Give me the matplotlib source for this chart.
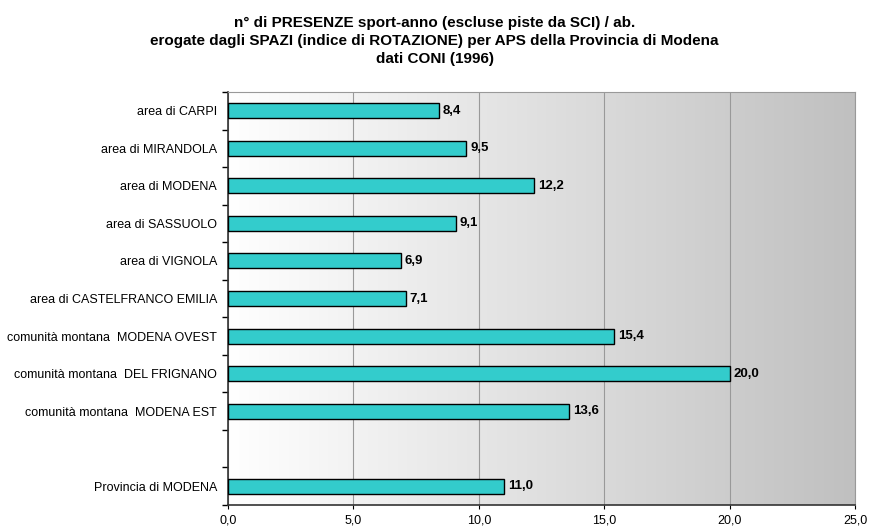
import numpy as np
import matplotlib.pyplot as plt

plt.rcParams['font.family'] = ['Liberation Sans', 'DejaVu Sans']

# Data
categorie = ["area di CARPI", "area di MIRANDOLA", "area di MODENA", "area di SASSUOLO",
             "area di VIGNOLA", "area di CASTELFRANCO EMILIA",
             "comunità montana  MODENA OVEST", "comunità montana  DEL FRIGNANO",
             "comunità montana  MODENA EST", "", "Provincia di MODENA"]
valori = [8.4, 9.5, 12.2, 9.1, 6.9, 7.1, 15.4, 20.0, 13.6, None, 11.0]

fig = plt.figure(figsize=(8.69, 5.28), dpi=100)
ax = fig.add_axes([228/869, 1 - 505/528, 627/869, 413/528])

n = len(categorie)
y = np.arange(n)
for yi, v in zip(y, valori):
    if v is None:
        continue
    ax.barh(yi, v, height=0.4, color="#33CCCC", edgecolor="black", linewidth=1, zorder=3)
    ax.text(v + 0.15, yi, f"{v:.1f}".replace(".", ","), va="center", ha="left",
            fontsize=9.5, fontweight="bold", zorder=4)

ax.set_xlim(0, 25)
ax.set_ylim(n - 0.5, -0.5)

# background gradient white -> gray
grad = np.linspace(0, 1, 256).reshape(1, -1)
ax.imshow(grad, extent=[0, 25, n - 0.5, -0.5], aspect="auto", cmap=plt.matplotlib.colors.LinearSegmentedColormap.from_list("g", ["#ffffff", "#c0c0c0"]), zorder=0)

ax.set_xticks(np.arange(0, 26, 5))
ax.set_xticklabels([f"{t:.1f}".replace(".", ",") for t in np.arange(0, 26, 5)], fontsize=9)
ax.tick_params(axis="x", length=3, pad=4)
ax.grid(axis="x", color="#999999", linewidth=0.8, zorder=1)

ax.set_yticks(y)
ax.set_yticklabels(categorie, fontsize=9)
ax.set_yticks(np.arange(n + 1) - 0.5, minor=True)
ax.tick_params(axis="y", which="major", length=0, pad=8)
ax.tick_params(axis="y", which="minor", length=4, width=1)

ax.spines["left"].set_color("#333333")
ax.spines["bottom"].set_color("#333333")
ax.spines["left"].set_linewidth(1.2)
ax.spines["bottom"].set_linewidth(1.2)
ax.spines["top"].set_color("#999999")
ax.spines["right"].set_color("#999999")

fig.text(0.5, 1 - 41/528,
         "n° di PRESENZE sport-anno (escluse piste da SCI) / ab.\n"
         "erogate dagli SPAZI (indice di ROTAZIONE) per APS della Provincia di Modena\n"
         "dati CONI (1996)",
         ha="center", va="center", fontsize=11, fontweight="bold", linespacing=1.4)

fig.savefig("out.png", dpi=100)
